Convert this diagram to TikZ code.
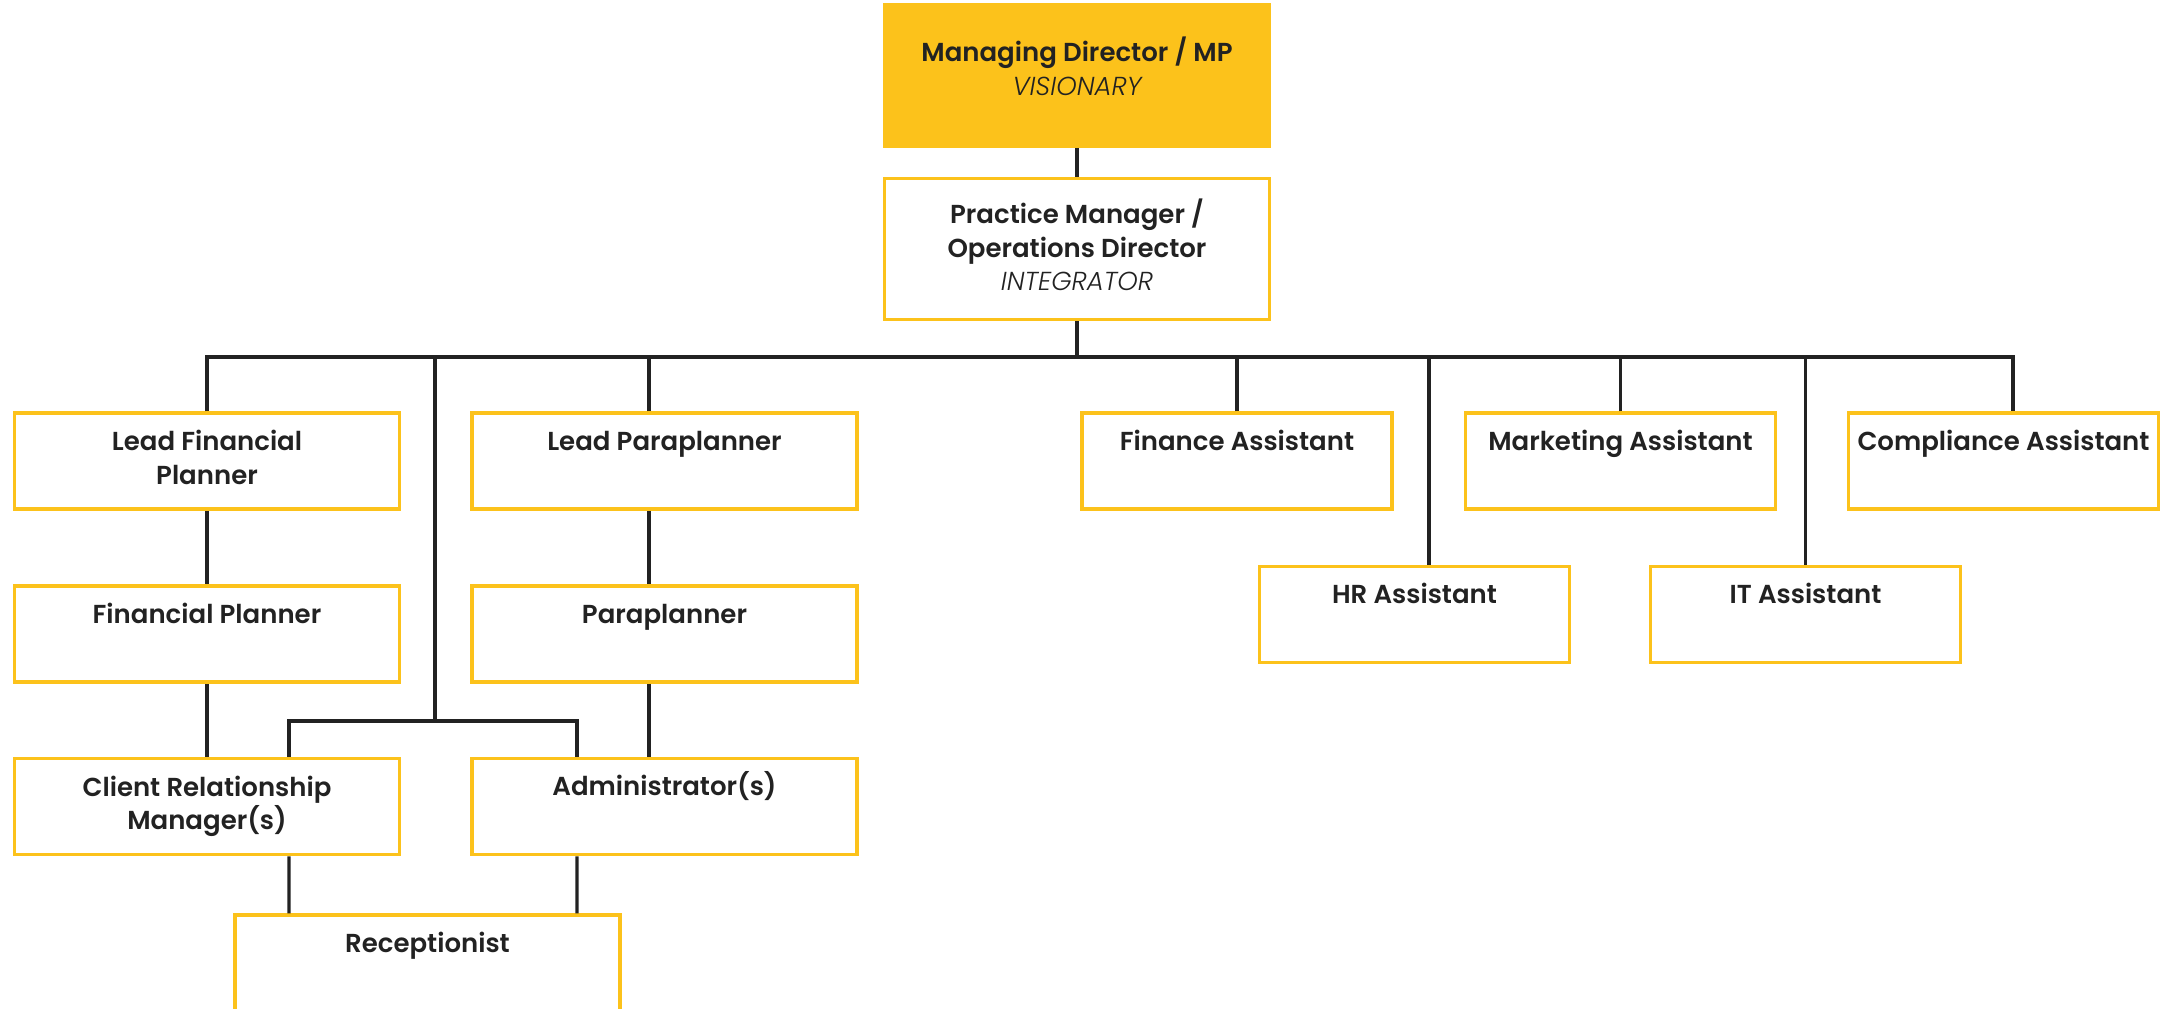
\documentclass[tikz,border=0pt]{standalone}
\usepackage{fontspec}
\setmainfont{Poppins}[BoldFont={Poppins SemiBold},ItalicFont={Poppins Light Italic}]
\definecolor{gold}{HTML}{FCC21B}
\definecolor{ink}{HTML}{222222}
\tikzset{%
  rolebox/.style  = {shape=rectangle, draw=gold, line width=1pt, fill=white,%
                     inner sep=0pt, minimum width=38.5mm, minimum height=9.6mm},%
  smallbox/.style = {rolebox, minimum width=31mm},%
  headbox/.style  = {rolebox, minimum height=14.1mm},%
  title/.style    = {anchor=base, align=center, inner sep=0pt, text=ink,%
                     font=\fontsize{7.4}{9.6}\selectfont\bfseries},%
  link/.style     = {draw=ink, line width=0.9pt}%
}

\begin{document}
\begin{tikzpicture}[x=0.1mm,y=-0.1mm]
	\useasboundingbox (0,0) rectangle (2162,1009);
	\clip (0,0) rectangle (2162,1009);
	% top of the chart
	\node [headbox, fill=gold, draw=gold] (md) at (1077,75.5)
		[label={[title, yshift=-9.2mm]north:Managing Director / MP\\{\mdseries\itshape VISIONARY}}] {};
	\node [headbox] (pm) at (1077,249)
		[label={[title, yshift=-11.4mm]north:Practice Manager /\\Operations Director\\{\mdseries\itshape INTEGRATOR}}] {};
	% advice side
	\node [rolebox] (lfp) at (207,461) [label={[title, yshift=-7.3mm]north:Lead Financial\\Planner}] {};
	\node [rolebox] (fp)  at (207,634) [label={[title, yshift=-3.9mm]north:Financial Planner}] {};
	\node [rolebox] (crm) at (207,806.5) [label={[title, yshift=-7.3mm]north:Client Relationship\\Manager(s)}] {};
	\node [rolebox] (lpp) at (664.5,461) [label={[title, yshift=-3.9mm]north:Lead Paraplanner}] {};
	\node [rolebox] (pp)  at (664.5,634) [label={[title, yshift=-3.9mm]north:Paraplanner}] {};
	\node [rolebox] (adm) at (664.5,806.5) [label={[title, yshift=-3.9mm]north:Administrator(s)}] {};
	\node [rolebox] (rec) at (427.5,963) [label={[title, yshift=-3.9mm]north:Receptionist}] {};
	% support side
	\node [smallbox] (fin)  at (1237,461)   [label={[title, yshift=-3.9mm]north:Finance Assistant}] {};
	\node [smallbox] (mkt)  at (1620.5,461) [label={[title, yshift=-3.9mm]north:Marketing Assistant}] {};
	\node [smallbox] (comp) at (2003.5,461) [label={[title, yshift=-3.9mm]north:Compliance Assistant}] {};
	\node [smallbox] (hr)   at (1414.5,614.5) [label={[title, yshift=-3.9mm]north:HR Assistant}] {};
	\node [smallbox] (it)   at (1805.5,614.5) [label={[title, yshift=-3.9mm]north:IT Assistant}] {};
	\coordinate (bus)  at (1077,357);
	\coordinate (fork) at (435,721);
	% lines
	\draw [link] (md) -- (pm);
	\draw [link] (pm) -- (bus);
	\draw [link] (lfp.north) |- (bus) -| ([xshift=0.95mm]comp.north);
	\foreach \n in {fin,mkt,it}
		\draw [link] (\n.north) |- (bus);
	\draw [link] ([xshift=-1.55mm]lpp.north) |- (bus);
	\draw [link] ([xshift=1.45mm]hr.north) |- (bus);
	\draw [link] (fork |- bus) -- (fork);
	\draw [link] ([xshift=8.2mm]crm.north) |- (fork) -| ([xshift=-8.75mm]adm.north);
	\draw [link] (lfp) -- (fp);
	\draw [link] (fp) -- (crm);
	\draw [link] ([xshift=-1.55mm]lpp.south) -- ([xshift=-1.55mm]pp.north);
	\draw [link] ([xshift=-1.55mm]pp.south) -- ([xshift=-1.55mm]adm.north);
	\draw [link] ([xshift=8.2mm]crm.south) -- ([xshift=-13.85mm]rec.north);
	\draw [link] ([xshift=-8.75mm]adm.south) -- ([xshift=14.95mm]rec.north);
\end{tikzpicture}
\end{document}
